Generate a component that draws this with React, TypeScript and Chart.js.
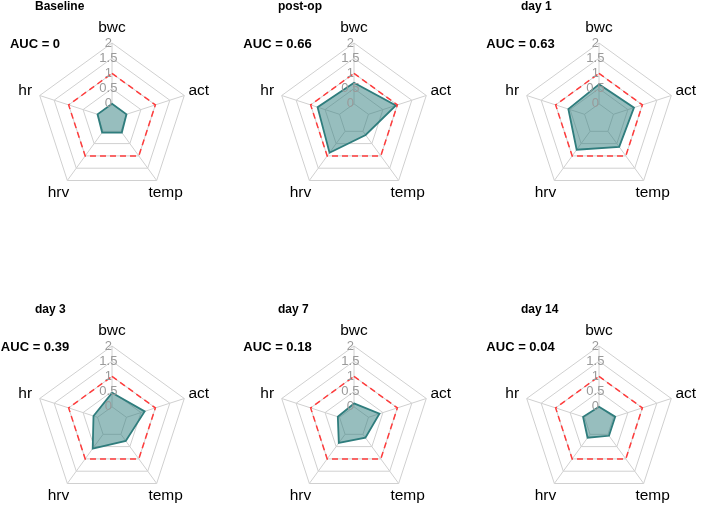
import React, { useEffect, useRef } from 'react';
import { Chart, registerables } from 'chart.js';

Chart.register(...registerables);

// axes of every radar, clockwise from the top
const axes = ['bwc', 'act', 'temp', 'hrv', 'hr'];

const panelTitles = ['Baseline', 'post-op', 'day 1', 'day 3', 'day 7', 'day 14'];
const aucLabels = ['AUC = 0', 'AUC = 0.66', 'AUC = 0.63', 'AUC = 0.39', 'AUC = 0.18', 'AUC = 0.04'];

// values per panel, order follows `axes`
const baseline = [0, 0, 0.05, 0.05, 0];
const postOp = [0.69, 0.95, 0.15, 0.87, 0.76];
const day1 = [0.64, 0.71, 0.63, 0.75, 0.56];
const day3 = [0.46, 0.63, 0.27, 0.58, 0.14];
const day7 = [0.11, 0.38, 0.14, 0.35, 0.06];
const day14 = [0, 0.06, 0.06, 0.14, 0.05];
const panelValues = [baseline, postOp, day1, day3, day7, day14];

// dashed reference level
const referenceLevel = [1, 1, 1, 1, 1];

const tickValues = [0, 0.5, 1, 1.5, 2];
const tickLabels = ['0', '0.5', '1', '1.5', '2'];

const FONT = '"Liberation Sans", Arial, sans-serif';
const GRID = '#d0d0d0';
const TEAL = 'rgb(47,125,125)';
const TEAL_FILL = 'rgba(47,125,125,0.5)';
const RED = 'rgb(255,60,60)';

const PANEL_W = 236;
const PANEL_H = 257;
const panelX = [0, 236, 472];
const panelY = [0, 258];
// radar centre in page pixels
const centerX = [112, 354, 599];
const centerY = [119, 422];
const RADIUS = 85;

const titleLeft = [35, 278, 521];
const aucCenter = [35, 277.5, 520.5];

const RadarPanel: React.FC<{ index: number }> = ({ index }) => {
    const canvasRef = useRef<HTMLCanvasElement>(null);
    const col = index % 3;
    const row = Math.floor(index / 3);

    useEffect(() => {
        const ctx = canvasRef.current?.getContext('2d');
        if (!ctx) return;

        const padLeft = centerX[col] - panelX[col] - RADIUS;
        const padTop = centerY[row] - panelY[row] - RADIUS;

        const axisDecor = {
            id: 'axisDecor',
            beforeDatasetsDraw(chart: any) {
                const scale = chart.scales.r;
                const c = chart.ctx;
                c.save();
                c.strokeStyle = GRID;
                c.lineWidth = 1;
                axes.forEach((_, i) => {
                    const a = scale.getPointPositionForValue(i, 0);
                    const b = scale.getPointPositionForValue(i, 2);
                    c.beginPath();
                    c.moveTo(a.x, a.y);
                    c.lineTo(b.x, b.y);
                    c.stroke();
                });
                c.restore();
            },
            afterDraw(chart: any) {
                const scale = chart.scales.r;
                const c = chart.ctx;
                c.save();
                c.fillStyle = '#000';
                c.font = `15.5px ${FONT}`;
                c.textAlign = 'center';
                c.textBaseline = 'middle';
                axes.forEach((name, i) => {
                    const p = scale.getPointPosition(i, scale.drawingArea * 1.2);
                    c.fillText(name, p.x, p.y);
                });
                c.restore();
            }
        };

        const chart = new Chart(ctx, {
            type: 'radar',
            data: {
                labels: axes,
                datasets: [
                    {
                        label: 'reference',
                        data: referenceLevel,
                        borderColor: RED,
                        borderWidth: 1.5,
                        borderDash: [6, 4],
                        fill: false,
                        pointRadius: 0
                    },
                    {
                        label: panelTitles[index],
                        data: panelValues[index],
                        borderColor: TEAL,
                        backgroundColor: TEAL_FILL,
                        borderWidth: 1.8,
                        fill: 'start',
                        pointRadius: 0
                    }
                ]
            },
            options: {
                responsive: false,
                animation: false,
                layout: {
                    padding: {
                        left: padLeft,
                        top: padTop,
                        right: PANEL_W - padLeft - 2 * RADIUS,
                        bottom: PANEL_H - padTop - 2 * RADIUS
                    }
                },
                plugins: {
                    legend: { display: false },
                    tooltip: { enabled: false }
                },
                scales: {
                    r: {
                        min: -0.5,
                        max: 2,
                        angleLines: { display: false },
                        grid: {
                            color: (c: any) => (c.index === 0 ? 'rgba(0,0,0,0)' : GRID),
                            lineWidth: 1
                        },
                        pointLabels: { display: false },
                        ticks: {
                            stepSize: 0.5,
                            z: 1,
                            color: '#9a9a9a',
                            showLabelBackdrop: false,
                            font: { size: 13, family: FONT },
                            callback: (value: any) => {
                                const k = tickValues.indexOf(Number(value));
                                return k < 0 ? '' : tickLabels[k] + '  ';
                            }
                        }
                    }
                }
            },
            plugins: [axisDecor]
        });

        return () => {
            chart.destroy();
        };
    }, [index, col, row]);

    return (
        <>
            <canvas
                ref={canvasRef}
                width={PANEL_W}
                height={PANEL_H}
                style={{ position: 'absolute', left: panelX[col], top: panelY[row], display: 'block' }}
            />
            <div
                style={{
                    position: 'absolute',
                    left: titleLeft[col],
                    top: centerY[row] - 113 - 6,
                    font: `bold 12px ${FONT}`,
                    lineHeight: '12px',
                    whiteSpace: 'nowrap'
                }}
            >
                {panelTitles[index]}
            </div>
            <div
                style={{
                    position: 'absolute',
                    left: aucCenter[col],
                    top: centerY[row] - 76 - 6.5,
                    transform: 'translateX(-50%)',
                    font: `bold 13px ${FONT}`,
                    lineHeight: '13px',
                    whiteSpace: 'nowrap'
                }}
            >
                {aucLabels[index]}
            </div>
        </>
    );
};

const App: React.FC = () => {
    return (
        <div
            style={{
                position: 'fixed',
                left: 0,
                top: 0,
                width: 708,
                height: 515,
                background: '#fff',
                overflow: 'hidden'
            }}
        >
            {panelTitles.map((_, i) => (
                <RadarPanel key={i} index={i} />
            ))}
        </div>
    );
};

export default App;
